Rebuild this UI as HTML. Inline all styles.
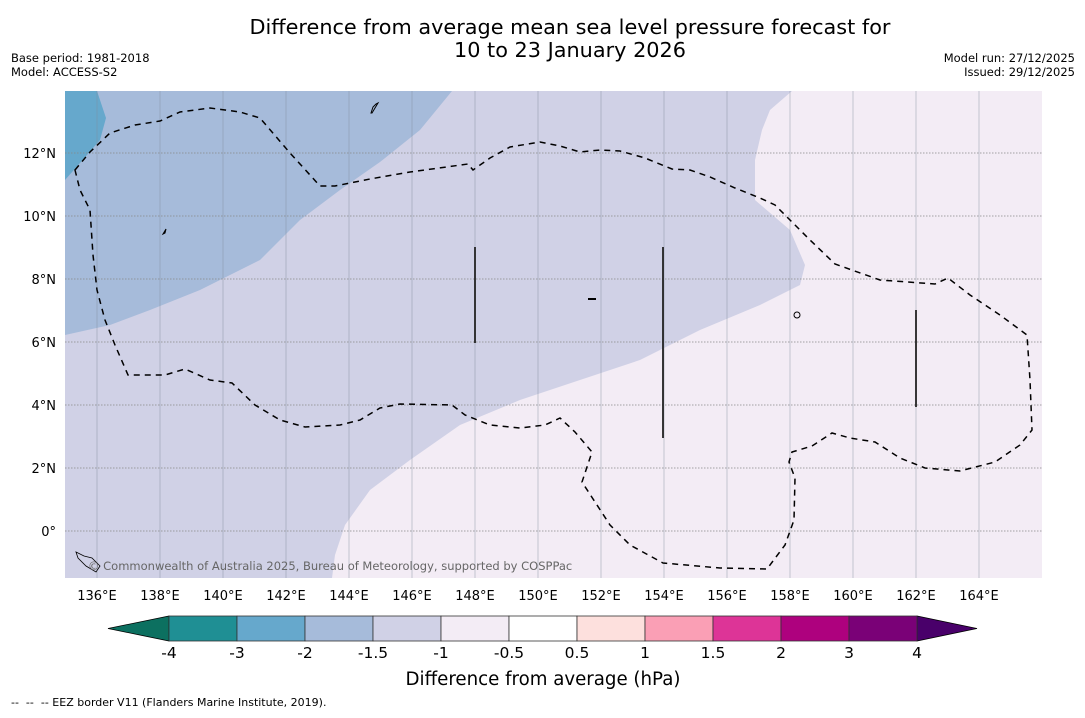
<!DOCTYPE html>
<html><head><meta charset="utf-8">
<style>
body{margin:0;background:#fff;width:1085px;height:713px;overflow:hidden;font-family:"Liberation Sans","DejaVu Sans",sans-serif}
svg text{font-family:"DejaVu Sans","Liberation Sans",sans-serif}
</style></head>
<body>
<svg id="c" width="1085" height="713" viewBox="0 0 1085 713">
<text x="570" y="34" font-size="20.8" text-anchor="middle" fill="#000">Difference from average mean sea level pressure forecast for</text>
<text x="570" y="57" font-size="20.8" text-anchor="middle" fill="#000">10 to 23 January 2026</text>
<text x="11" y="62" font-size="11.5">Base period: 1981-2018</text>
<text x="11" y="76" font-size="11.5">Model: ACCESS-S2</text>
<text x="1075" y="62" font-size="11.5" text-anchor="end">Model run: 27/12/2025</text>
<text x="1075" y="76" font-size="11.5" text-anchor="end">Issued: 29/12/2025</text>
<defs><clipPath id="mc"><rect x="65" y="91" width="977" height="487"/></clipPath></defs>
<g clip-path="url(#mc)">
<rect x="65" y="91" width="977" height="487" fill="#f3ecf5"/>
<path d="M65,91 L792,91 L770,110 L762,130 L755,160 L755,200 L790,230 L805,265 L800,285 L760,305 L700,330 L640,360 L580,380 L520,400 L460,425 L410,460 L370,490 L345,525 L335,555 L332,578 L65,578 Z" fill="#d0d1e6"/>
<path d="M65,91 L452,91 L420,130 L380,162 L340,190 L300,220 L260,260 L200,290 L150,310 L110,325 L65,335 Z" fill="#a6bbda"/>
<path d="M65,91 L97,91 L106,118 L100,140 L80,163 L65,180 Z" fill="#66a8cc"/>
<g id="grid"></g>
<path d="M75,170 L90,152 L110,133 L135,125 L160,121 L180,112 L210,108 L240,112 L260,118 L290,153 L320,186 L335,186 L370,179 L410,172 L468,164 L473,170 L490,158 L510,147 L540,142 L560,146 L580,152 L600,150 L620,151 L645,158 L672,169 L690,170 L710,177 L735,188 L760,198 L775,205 L785,215 L810,240 L835,264 L880,280 L935,284 L948,278 L970,295 L1000,315 L1027,335 L1030,380 L1032,430 L1020,445 L995,462 L960,471 L925,468 L900,458 L875,442 L850,438 L832,433 L812,446 L792,452 L789,462 L795,478 L794,520 L785,545 L767,569 L720,568 L663,563 L630,545 L610,525 L582,482 L592,452 L575,432 L560,418 L545,425 L520,428 L490,425 L465,415 L452,405 L400,404 L380,408 L360,420 L340,425 L305,427 L280,420 L255,405 L232,383 L210,380 L185,369 L165,375 L128,375 L115,345 L105,320 L97,290 L93,255 L90,210 L80,190 Z" fill="none" stroke="#000" stroke-width="1.5" stroke-dasharray="6,5"/>
<line x1="475" y1="247" x2="475" y2="343" stroke="#222" stroke-width="1.8"/>
<line x1="663" y1="247" x2="663" y2="438" stroke="#222" stroke-width="1.8"/>
<line x1="916" y1="310" x2="916" y2="407" stroke="#222" stroke-width="1.8"/>
<path d="M371,113 L373,107 L376,104 L378,103 L375,108 L372,113 Z" fill="none" stroke="#000" stroke-width="1"/>
<circle cx="797" cy="315" r="3" fill="none" stroke="#000"/>
<rect x="588" y="298" width="8" height="2" fill="#000"/>
<path d="M163,234 L166,229 L165,233 Z" fill="#000" stroke="#000"/>
<path d="M76,552 L84,556 L92,558 L100,566 L96,572 L86,566 L78,558 Z" fill="none" stroke="#000" stroke-width="0.8"/>
<text x="88" y="570" font-size="11.5" fill="#666">© Commonwealth of Australia 2025, Bureau of Meteorology, supported by COSPPac</text>
</g>
<g id="axes"></g>
<g id="cbar"></g>
<text x="543" y="685" font-size="18.2" text-anchor="middle">Difference from average (hPa)</text>
<text x="11" y="706" font-size="11" xml:space="preserve" style="white-space:pre">--  --  -- EEZ border V11 (Flanders Marine Institute, 2019).</text>
</svg>
<script>
const lonTicks=[136,138,140,142,144,146,148,150,152,154,156,158,160,162,164];
const latTicks=[12,10,8,6,4,2,0];
const cbLevels=["-4","-3","-2","-1.5","-1","-0.5","0.5","1","1.5","2","3","4"];
const cbColors=["#1f8f94","#66a8cc","#a6bbda","#d0d1e6","#f3ecf5","#ffffff","#fde0dd","#fa9fb5","#dd3497","#ae017e","#7a0177"];
const cbExtLow="#0c7060", cbExtHigh="#49006a";
const NS="http://www.w3.org/2000/svg";
const xL=lon=>65.5+(lon-135)*31.5;
const yL=lat=>531-lat*31.5;
function mk(t,a,p){const e=document.createElementNS(NS,t);for(const k in a)e.setAttribute(k,a[k]);p.appendChild(e);return e;}
const grid=document.getElementById('grid'),axes=document.getElementById('axes'),cb=document.getElementById('cbar');
lonTicks.forEach(l=>{
 const x=xL(l);
 const ln=mk('line',{x1:x,y1:91,x2:x,y2:578,stroke:'#7f8c9c','stroke-width':0.7,'stroke-opacity':0.6},grid);
 
 
 const t=mk('text',{x:x,y:600,'font-size':13,'text-anchor':'middle'},axes);t.textContent=l+'°E';
 
 
});
latTicks.forEach(l=>{
 const y=yL(l);
 const ln=mk('line',{x1:65,y1:y,x2:1042,y2:y,stroke:'#888','stroke-width':0.8,'stroke-dasharray':'1.5,1.5'},grid);
 
 
 const t=mk('text',{x:56,y:y+5,'font-size':13,'text-anchor':'end'},axes);t.textContent=l===0?'0°':l+'°N';
 
 
});
const bx0=169,bw=68,by=616,bh=25;
const tl=mk('polygon',{points:`108,${by+bh/2} ${bx0},${by} ${bx0},${by+bh}`,fill:cbExtLow,stroke:'#000','stroke-width':0.8},cb);


const xe=bx0+bw*cbColors.length;
const th=mk('polygon',{points:`${xe},${by} ${xe},${by+bh} 977,${by+bh/2}`,fill:cbExtHigh,stroke:'#000','stroke-width':0.8},cb);


cbColors.forEach((c,i)=>{
 const r=mk('rect',{x:bx0+i*bw,y:by,width:bw,height:bh,fill:c,stroke:'#333','stroke-width':0.8},cb);
 
 
});
cbLevels.forEach((v,i)=>{
 const t=mk('text',{x:bx0+i*bw,y:658,'font-size':15.5,'text-anchor':'middle'},cb);t.textContent=v;
 
 
});
</script>
</body></html>
